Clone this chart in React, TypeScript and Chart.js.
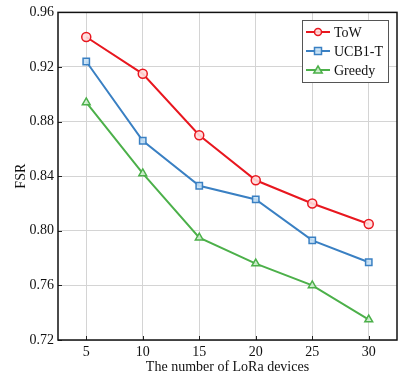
import React, { useEffect, useRef } from "react";
import { Chart, registerables } from "chart.js";

Chart.register(...registerables);

const devices = [5, 10, 15, 20, 25, 30];
const towValues = [0.942, 0.915, 0.870, 0.837, 0.820, 0.805];
const ucbValues = [0.924, 0.866, 0.833, 0.823, 0.793, 0.777];
const greedyValues = [0.894, 0.842, 0.795, 0.776, 0.760, 0.735];
const seriesLabels = ["ToW", "UCB1-T", "Greedy"];
const xTicks = [5, 10, 15, 20, 25, 30];
const yTicks = [0.72, 0.76, 0.8, 0.84, 0.88, 0.92, 0.96];

const FONT = "'Liberation Serif', 'Times New Roman', serif";

const frameAndLegend = {
  id: "frameAndLegend",
  afterDraw(chart: any) {
    const { ctx, chartArea } = chart;
    const { left, right, top, bottom } = chartArea;
    ctx.save();
    const xs = chart.scales.x;
    const ys = chart.scales.y;
    ctx.strokeStyle = "#222";
    ctx.lineWidth = 1;
    xTicks.forEach((v) => {
      const px = Math.round(xs.getPixelForValue(v)) + 0.5;
      ctx.beginPath();
      ctx.moveTo(px, bottom);
      ctx.lineTo(px, bottom - 4);
      ctx.stroke();
    });
    yTicks.forEach((v) => {
      const py = Math.round(ys.getPixelForValue(v)) + 0.5;
      ctx.beginPath();
      ctx.moveTo(left, py);
      ctx.lineTo(left + 4, py);
      ctx.stroke();
    });
    ctx.strokeStyle = "#111";
    ctx.lineWidth = 1.5;
    ctx.strokeRect(left, top, right - left, bottom - top);

    const lx = 302, ly = 20, lw = 86, lh = 62;
    ctx.fillStyle = "#fff";
    ctx.fillRect(lx, ly, lw, lh);
    ctx.strokeStyle = "#555";
    ctx.lineWidth = 1;
    ctx.strokeRect(lx + 0.5, ly + 0.5, lw, lh);
    ctx.font = "14px " + FONT;
    ctx.textBaseline = "middle";
    chart.data.datasets.forEach((ds: any, i: number) => {
      const cy = ly + 12 + i * 19;
      ctx.strokeStyle = ds.borderColor;
      ctx.lineWidth = 2;
      ctx.beginPath();
      ctx.moveTo(lx + 4, cy);
      ctx.lineTo(lx + 28, cy);
      ctx.stroke();
      const cx = lx + 16;
      ctx.fillStyle = ds.pointBackgroundColor;
      ctx.lineWidth = 1.5;
      ctx.beginPath();
      if (ds.pointStyle === "circle") {
        ctx.arc(cx, cy, 3.5, 0, Math.PI * 2);
      } else if (ds.pointStyle === "rect") {
        ctx.rect(cx - 3.5, cy - 3.5, 7, 7);
      } else {
        ctx.moveTo(cx, cy - 4);
        ctx.lineTo(cx + 4.2, cy + 3);
        ctx.lineTo(cx - 4.2, cy + 3);
        ctx.closePath();
      }
      ctx.fill();
      ctx.stroke();
      ctx.fillStyle = "#111";
      ctx.fillText(ds.label, lx + 32, cy + 1);
    });
    ctx.restore();
  },
};

export default function App() {
  const ref = useRef<HTMLCanvasElement>(null);
  useEffect(() => {
    const mk = (label: string, data: number[], color: string, style: string, fill: string) => ({
      label,
      data: devices.map((d, i) => ({ x: d, y: data[i] })),
      borderColor: color,
      backgroundColor: color,
      pointBackgroundColor: fill,
      pointBorderColor: color,
      pointStyle: style,
      pointRadius: 4.5,
      pointBorderWidth: 1.5,
      borderWidth: 2,
      tension: 0,
    });
    const chart = new Chart(ref.current!, {
      type: "line",
      data: {
        datasets: [
          mk(seriesLabels[0], towValues, "#e8171f", "circle", "rgba(255,220,220,0.9)"),
          mk(seriesLabels[1], ucbValues, "#3a80c3", "rect", "rgba(200,225,245,0.9)"),
          mk(seriesLabels[2], greedyValues, "#4cb04a", "triangle", "rgba(210,240,210,0.9)"),
        ],
      },
      options: {
        animation: false,
        responsive: false,
        layout: { padding: { top: 11, right: 12, left: 13, bottom: 8 } },
        plugins: { legend: { display: false }, tooltip: { enabled: false } },
        scales: {
          x: {
            type: "linear",
            min: 2.5,
            max: 32.5,
            afterBuildTicks: (s: any) => {
              s.ticks = xTicks.map((v) => ({ value: v }));
            },
            afterFit: (s: any) => {
              s.height = 34;
            },
            grid: { color: "#d4d4d4", lineWidth: 1, drawTicks: false },
            border: { display: false },
            ticks: { color: "#111", font: { family: FONT, size: 14, lineHeight: 1 }, padding: 5 },
            title: {
              display: true,
              text: "The number of LoRa devices",
              color: "#111",
              font: { family: FONT, size: 14, lineHeight: 1 },
              padding: { top: 0, bottom: 0 },
            },
          },
          y: {
            min: 0.72,
            max: 0.96,
            afterBuildTicks: (s: any) => {
              s.ticks = yTicks.map((v) => ({ value: v }));
            },
            afterFit: (s: any) => {
              s.width = 45;
            },
            grid: { color: "#d4d4d4", lineWidth: 1, drawTicks: false },
            border: { display: false },
            ticks: {
              color: "#111",
              font: { family: FONT, size: 14 },
              padding: 4,
              callback: (v: any) => Number(v).toFixed(2),
            },
            title: {
              display: true,
              text: "FSR",
              color: "#111",
              font: { family: FONT, size: 14 },
              padding: { top: 0, bottom: 2 },
            },
          },
        },
      },
      plugins: [frameAndLegend],
    });
    return () => chart.destroy();
  }, []);
  return (
    <div style={{ position: "fixed", left: 0, top: 0, width: 409, height: 382, background: "#fff" }}>
      <canvas ref={ref} width={409} height={382} style={{ width: 409, height: 382 }} />
    </div>
  );
}
